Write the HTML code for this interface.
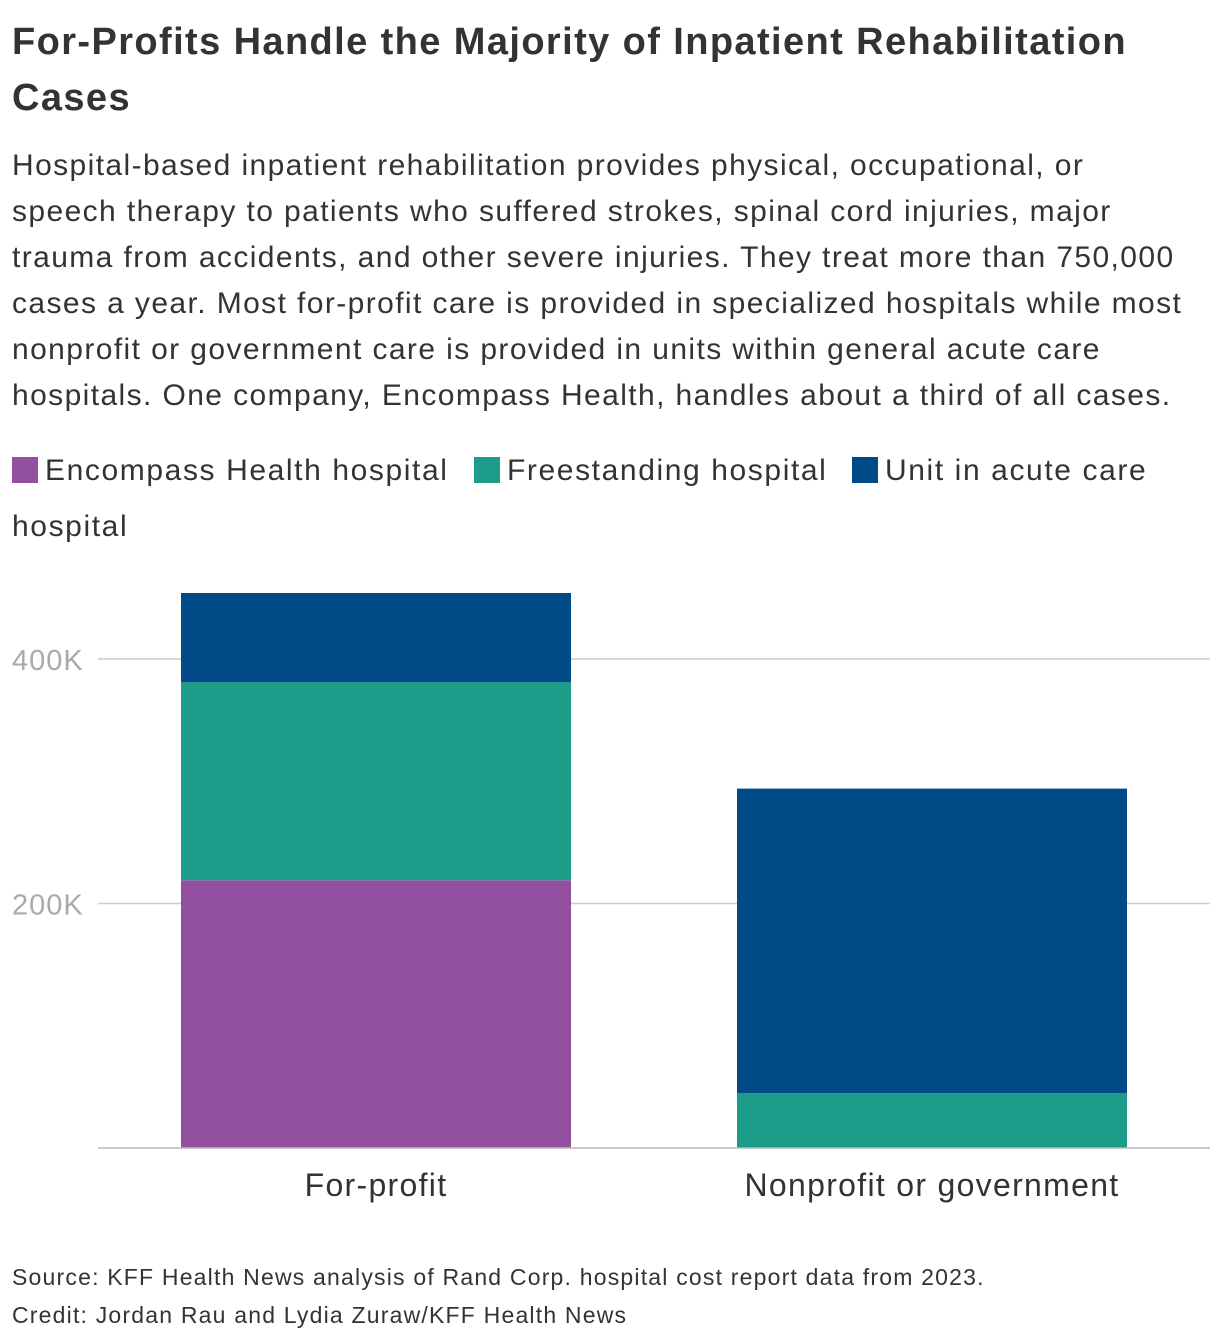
<!DOCTYPE html>
<html><head><meta charset="utf-8">
<style>
body{margin:0;width:1220px;height:1342px;background:#fff;font-family:"Liberation Sans",sans-serif;color:#333;position:relative;overflow:hidden}
.abs{position:absolute;white-space:nowrap}
#title{left:12px;top:14px;font-size:38px;letter-spacing:1.4px;font-weight:bold;line-height:56px;color:#333}
#desc{left:12px;top:143px;font-size:30px;letter-spacing:1.4px;line-height:46px;color:#333}
.leg{position:absolute;font-size:30px;letter-spacing:1.6px;color:#333;white-space:nowrap}
.sw{display:inline-block;width:26px;height:26px;vertical-align:-3px;margin-right:7px}
#src{left:12px;top:1258px;font-size:23px;letter-spacing:1.2px;line-height:38px;color:#333}
</style></head><body>
<div id="title" class="abs">For-Profits Handle the Majority of Inpatient Rehabilitation<br>Cases</div>
<div id="desc" class="abs">Hospital-based inpatient rehabilitation provides physical, occupational, or<br>speech therapy to patients who suffered strokes, spinal cord injuries, major<br>trauma from accidents, and other severe injuries. They treat more than 750,000<br>cases a year. Most for-profit care is provided in specialized hospitals while most<br>nonprofit or government care is provided in units within general acute care<br>hospitals. One company, Encompass Health, handles about a third of all cases.</div>
<div class="leg" style="left:12px;top:454px"><span class="sw" style="background:#9350a0"></span>Encompass Health hospital</div>
<div class="leg" style="left:474px;top:454px"><span class="sw" style="background:#1e9c8a"></span>Freestanding hospital</div>
<div class="leg" style="left:852px;top:454px"><span class="sw" style="background:#004a88"></span>Unit in acute care</div>
<div class="leg" style="left:12px;top:510px">hospital</div>
<svg id="chart" class="abs" style="left:0;top:0" width="1220" height="1342"></svg>
<div id="src" class="abs">Source: KFF Health News analysis of Rand Corp. hospital cost report data from 2023.<br>Credit: Jordan Rau and Lydia Zuraw/KFF Health News</div>
<script>
const categories=["For-profit","Nonprofit or government"];
const encompass=[219,0];
const freestanding=[162,45];
const unitAcute=[73,249];
const yTicks=[200,400];
const yTickLabels=["200K","400K"];
const svg=document.getElementById('chart');
const NS='http://www.w3.org/2000/svg';
const y0=1148, pxPer=1.2225, plotL=98, plotR=1210;
const y=v=>y0-v*pxPer;
const bandW=(plotR-plotL)/categories.length;
const barW=390;
const xC=i=>plotL+bandW*i+bandW/2;
function mk(t,a){const e=document.createElementNS(NS,t);for(const k in a)e.setAttribute(k,a[k]);svg.appendChild(e);return e;}
yTicks.forEach((v,i)=>{
 const l=mk('line',{x1:plotL,x2:plotR,y1:y(v),y2:y(v),stroke:'#ccc','stroke-width':1.5});
 
 
 const t=mk('text',{x:12,y:y(v)+11,'font-size':29,'letter-spacing':1,fill:'#aaa','font-family':'Liberation Sans, sans-serif'});
 t.textContent=yTickLabels[i];
 
 
});
const series=[[encompass,'#9350a0','encompass'],[freestanding,'#1e9c8a','freestanding'],[unitAcute,'#004a88','unit-acute']];
categories.forEach((c,i)=>{
 let cum=0;
 series.forEach(([arr,col,nm])=>{
  const v=arr[i]; if(v<=0)return;
  const r=mk('rect',{x:xC(i)-barW/2,y:y(cum+v),width:barW,height:v*pxPer,fill:col});
  
  
  cum+=v;
 });
 const t=mk('text',{x:xC(i),y:1196,'font-size':32,'letter-spacing':1.3,fill:'#333','text-anchor':'middle','font-family':'Liberation Sans, sans-serif'});
 t.textContent=c;
 
 
});
const ax=mk('line',{x1:plotL,x2:plotR,y1:y0,y2:y0,stroke:'#bbb','stroke-width':1.5});


</script>
</body></html>
